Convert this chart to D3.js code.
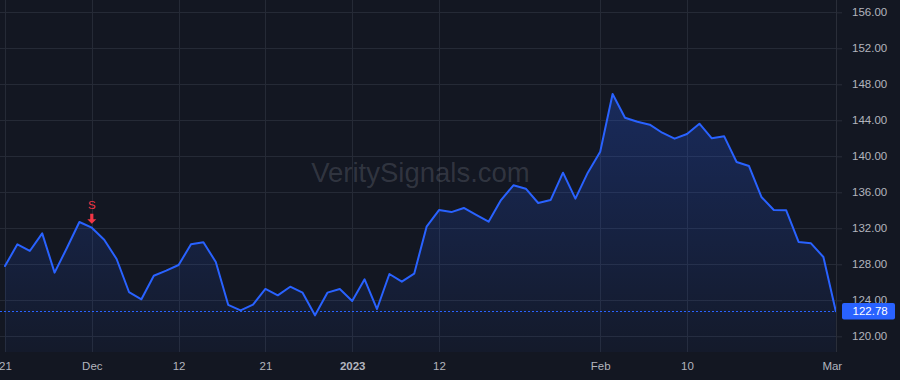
<!DOCTYPE html>
<html>
<head>
<meta charset="utf-8">
<script src="https://cdn.jsdelivr.net/npm/d3@7"></script>
<style>
  html, body { margin: 0; padding: 0; background: #131722; }
  svg { display: block; font-family: "Liberation Sans", Arial, sans-serif; }
</style>
</head>
<body>
<svg id="chart"></svg>
<script>
// trading days Nov 21 2022 -> Mar 1 2023
const dates = [
  '2022-11-21', '2022-11-22', '2022-11-23', '2022-11-25', '2022-11-28', '2022-11-29', '2022-11-30',
  '2022-12-01', '2022-12-02', '2022-12-05', '2022-12-06', '2022-12-07', '2022-12-08', '2022-12-09',
  '2022-12-12', '2022-12-13', '2022-12-14', '2022-12-15', '2022-12-16', '2022-12-19', '2022-12-20',
  '2022-12-21', '2022-12-22', '2022-12-23', '2022-12-27', '2022-12-28', '2022-12-29', '2022-12-30',
  '2023-01-03', '2023-01-04', '2023-01-05', '2023-01-06', '2023-01-09', '2023-01-10', '2023-01-11',
  '2023-01-12', '2023-01-13', '2023-01-17', '2023-01-18', '2023-01-19', '2023-01-20', '2023-01-23',
  '2023-01-24', '2023-01-25', '2023-01-26', '2023-01-27', '2023-01-30', '2023-01-31',
  '2023-02-01', '2023-02-02', '2023-02-03', '2023-02-06', '2023-02-07', '2023-02-08', '2023-02-09',
  '2023-02-10', '2023-02-13', '2023-02-14', '2023-02-15', '2023-02-16', '2023-02-17', '2023-02-21',
  '2023-02-22', '2023-02-23', '2023-02-24', '2023-02-27', '2023-02-28', '2023-03-01'
]

const closes = [
  127.81, 130.22, 129.48, 131.44, 127.07, 129.84, 132.70, 132.07, 130.73, 128.59,
  124.92, 124.11, 126.73, 127.29, 127.92, 130.22, 130.44, 128.26, 123.50, 122.89,
  123.51, 125.26, 124.55, 125.51, 124.85, 122.33, 124.85, 125.26, 123.92, 126.33,
  123.03, 126.92, 126.07, 126.96, 132.18, 134.03, 133.80, 134.26, 133.48, 132.73,
  135.14, 136.78, 136.40, 134.81, 135.14, 138.18, 135.29, 138.18, 140.50, 146.92,
  144.29, 143.84, 143.51, 142.62, 141.96, 142.48, 143.62, 142.00, 142.22, 139.37,
  138.92, 135.48, 134.03, 134.00, 130.48, 130.33, 128.81, 122.78
]

const yTicks = [120, 124, 128, 132, 136, 140, 144, 148, 152, 156]
const xTickDates = ['2022-11-21', '2022-12-01', '2022-12-12', '2022-12-21', '2023-01-03', '2023-01-12', '2023-02-01', '2023-02-10', '2023-03-01']
const xTickLabels = ['21', 'Dec', '12', '21', '2023', '12', 'Feb', '10', 'Mar']

const signalDates = ['2022-12-01']
const signalLabels = ['S']

const W = 900, H = 380
const paneRight = 836, paneBottom = 352

const svg = d3.select('#chart').attr('width', W).attr('height', H)
svg.append('rect').attr('width', W).attr('height', H).attr('fill', '#131722')

const x = d3.scalePoint().domain(dates).range([5, 835.8])
const y = d3.scaleLinear().domain([120, 156]).range([336.3, 12.3])

const points = dates.map((d, i) => ({ date: d, value: closes[i] }))

// grid
const grid = svg.append('g').attr('stroke', '#252a36').attr('stroke-width', 1)
grid.selectAll('.hg').data(yTicks).join('line')
  .attr('x1', 0).attr('x2', paneRight)
  .attr('y1', d => Math.round(y(d)) + 0.5).attr('y2', d => Math.round(y(d)) + 0.5)
grid.selectAll('.vg').data(xTickDates).join('line')
  .attr('x1', d => Math.round(x(d)) + 0.5).attr('x2', d => Math.round(x(d)) + 0.5)
  .attr('y1', 0).attr('y2', paneBottom)

// watermark
svg.append('text')
  .attr('x', 420.5).attr('y', 182)
  .attr('text-anchor', 'middle')
  .attr('font-size', 27.5)
  .attr('fill', 'rgba(178,181,190,0.2)')
  .text('VeritySignals.com')

// area + line
const defs = svg.append('defs')
const grad = defs.append('linearGradient').attr('id', 'areaGrad')
  .attr('gradientUnits', 'userSpaceOnUse')
  .attr('x1', 0).attr('x2', 0).attr('y1', y(d3.max(closes))).attr('y2', paneBottom)
grad.append('stop').attr('offset', 0).attr('stop-color', 'rgba(41,98,255,0.26)')
grad.append('stop').attr('offset', 1).attr('stop-color', 'rgba(41,98,255,0.04)')

const area = d3.area().x(d => x(d.date)).y0(paneBottom).y1(d => y(d.value))
svg.append('path').datum(points).attr('fill', 'url(#areaGrad)').attr('d', area)

const line = d3.line().x(d => x(d.date)).y(d => y(d.value))
svg.append('path').datum(points)
  .attr('fill', 'none')
  .attr('stroke', '#2962ff')
  .attr('stroke-width', 2)
  .attr('stroke-linejoin', 'round')
  .attr('stroke-linecap', 'round')
  .attr('d', line)

// last price line
const last = closes[closes.length - 1]
svg.append('line')
  .attr('x1', 0).attr('x2', paneRight)
  .attr('y1', Math.round(y(last)) + 0.5).attr('y2', Math.round(y(last)) + 0.5)
  .attr('stroke', '#2962ff').attr('stroke-width', 1).attr('stroke-dasharray', '2,2')

// signal markers
const sig = svg.append('g').selectAll('g').data(signalDates).join('g')
  .attr('transform', d => `translate(${x(d)},${y(closes[dates.indexOf(d)])})`)
sig.append('text')
  .attr('y', -18.5).attr('text-anchor', 'middle')
  .attr('font-size', 11.5).attr('fill', '#f23645')
  .text((d, i) => signalLabels[i])
sig.append('path')
  .attr('d', 'M-1.6,-14 L1.6,-14 L1.6,-8.5 L4.5,-8.5 L0,-3.8 L-4.5,-8.5 L-1.6,-8.5 Z')
  .attr('fill', '#f23645')

// pane border
svg.append('line')
  .attr('x1', paneRight + 0.5).attr('x2', paneRight + 0.5)
  .attr('y1', 0).attr('y2', paneBottom)
  .attr('stroke', '#2a2e39')

// price axis
const yAxis = svg.append('g')
  .attr('transform', `translate(${paneRight},0)`)
  .call(d3.axisRight(y).tickValues(yTicks).tickSize(6).tickPadding(10).tickFormat(d3.format('.2f')))
yAxis.select('.domain').remove()
yAxis.selectAll('line').attr('stroke', '#2a2e39')
yAxis.selectAll('text').attr('fill', '#b2b5be').attr('font-size', 11.5)
  .attr('font-family', '"Liberation Sans", Arial, sans-serif')

// last price label
const ly = y(last)
svg.append('rect')
  .attr('x', 842).attr('y', ly - 8.2).attr('width', 53).attr('height', 16.4)
  .attr('rx', 2).attr('fill', '#2962ff')
svg.append('text')
  .attr('x', 852.5).attr('y', ly).attr('dy', '0.35em')
  .attr('font-size', 11.5).attr('fill', '#ffffff')
  .text(d3.format('.2f')(last))

// time axis
const xAxis = svg.append('g')
  .attr('transform', `translate(0,${paneBottom})`)
  .call(d3.axisBottom(x).tickValues(xTickDates).tickSize(0).tickPadding(9.5)
    .tickFormat((d, i) => xTickLabels[i]))
xAxis.select('.domain').remove()
xAxis.selectAll('text')
  .attr('fill', '#b2b5be').attr('font-size', 11.5)
  .attr('font-family', '"Liberation Sans", Arial, sans-serif')
  .attr('font-weight', (d, i) => xTickLabels[i] === '2023' ? 'bold' : 'normal')
  .attr('dx', (d, i) => i === xTickDates.length - 1 ? -4 : 0)
</script>
</body>
</html>
